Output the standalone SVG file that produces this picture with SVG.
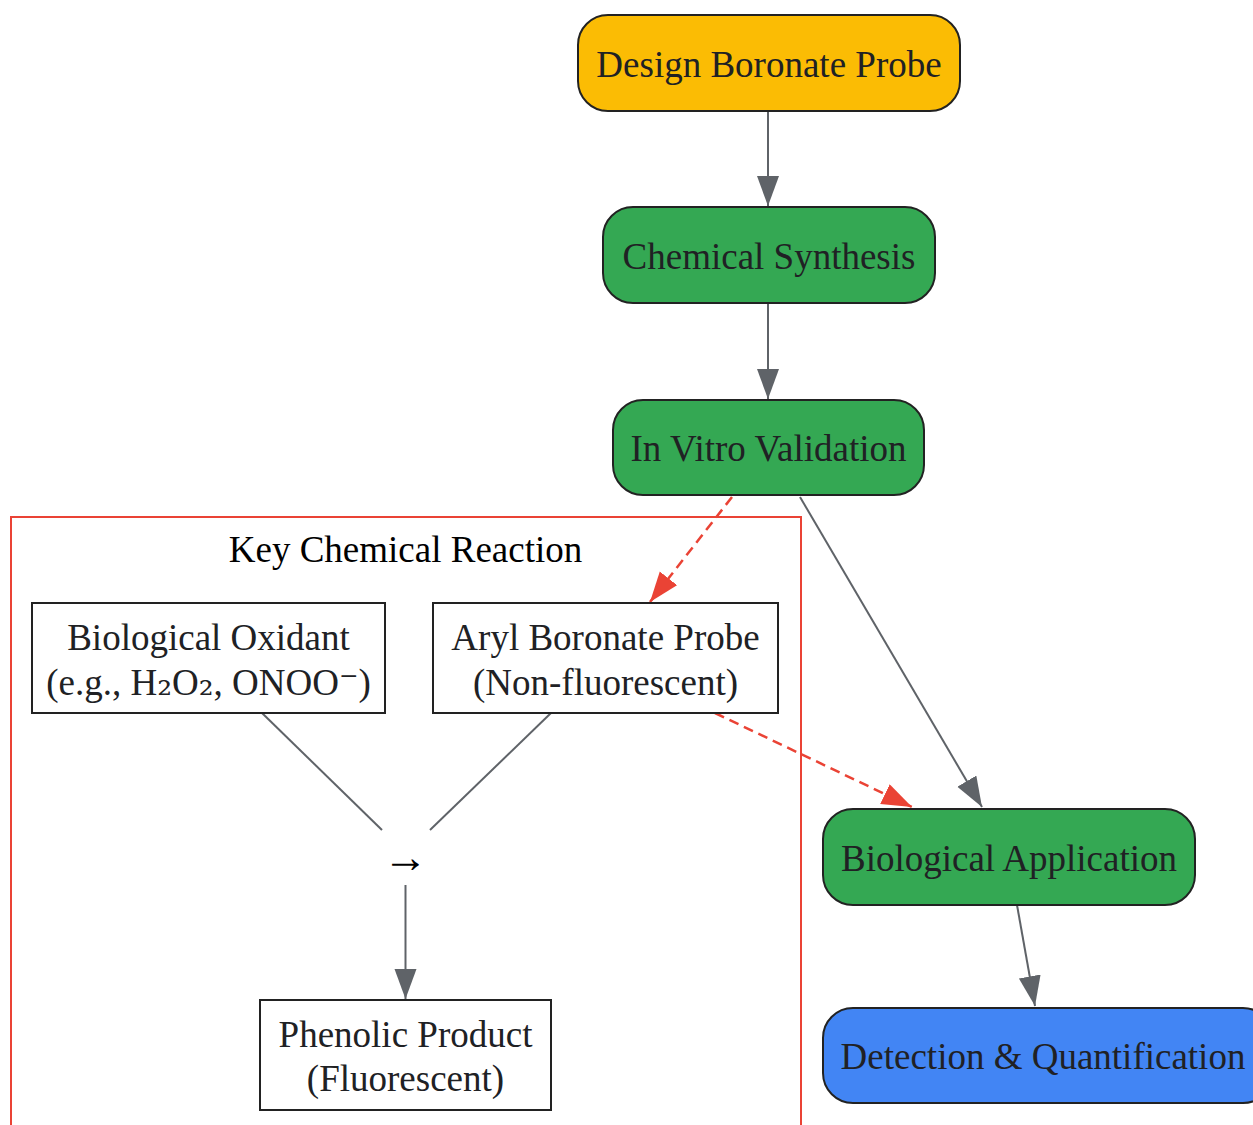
<svg xmlns="http://www.w3.org/2000/svg" width="1253" height="1125" viewBox="0 0 1253 1125">
<defs>
<style>
.n{stroke:#222;stroke-width:2}
.t{font-family:"Liberation Serif","Times New Roman",serif;font-size:37px;fill:#202124;text-anchor:middle}
.s{font-family:"DejaVu Serif",serif}
.b{fill:#fff;stroke:#222;stroke-width:2}
.e{fill:none;stroke:#5F6368;stroke-width:2}
.r{fill:none;stroke:#EA4335;stroke-width:2.5;stroke-dasharray:10,6}
</style>
<marker id="ag" markerUnits="userSpaceOnUse" markerWidth="32" markerHeight="24" refX="30" refY="11" orient="auto"><path d="M0,0L30,11L0,22z" fill="#5F6368"/></marker>
<marker id="ar" markerUnits="userSpaceOnUse" markerWidth="32" markerHeight="24" refX="30" refY="11" orient="auto"><path d="M0,0L30,11L0,22z" fill="#EA4335"/></marker>
</defs>
<rect width="1253" height="1125" fill="#fff"/>
<g id="cluster">
<rect x="11" y="517" width="790" height="640" fill="none" stroke="#EA4335" stroke-width="2"/>
<text class="t" x="405.5" y="562" style="fill:#000">Key Chemical Reaction</text>
</g>
<g id="edges">
<line class="e" x1="768" y1="111" x2="768" y2="206" marker-end="url(#ag)"/>
<line class="e" x1="768" y1="303" x2="768" y2="399" marker-end="url(#ag)"/>
<line class="r" x1="732" y1="497" x2="650" y2="602" marker-end="url(#ar)"/>
<line class="e" x1="800" y1="497" x2="982" y2="807" marker-end="url(#ag)"/>
<line class="r" x1="715" y1="713" x2="912" y2="807" marker-end="url(#ar)"/>
<line class="e" x1="1017" y1="905" x2="1035" y2="1006" marker-end="url(#ag)"/>
<line class="e" x1="262" y1="713" x2="382" y2="830"/>
<line class="e" x1="551" y1="713" x2="430" y2="830"/>
<line class="e" x1="405.5" y1="885" x2="405.5" y2="999" marker-end="url(#ag)"/>
</g>
<g id="design"><rect class="n" x="578" y="15" width="382" height="96" rx="30" fill="#FBBC04"/><text class="t" x="769" y="77">Design Boronate Probe</text></g>
<g id="synthesis"><rect class="n" x="603" y="207" width="332" height="96" rx="30" fill="#34A853"/><text class="t" x="769" y="269">Chemical Synthesis</text></g>
<g id="invitro"><rect class="n" x="613" y="400" width="311" height="95" rx="30" fill="#34A853"/><text class="t" x="768.5" y="461">In Vitro Validation</text></g>
<g id="bioapp"><rect class="n" x="823" y="809" width="372" height="96" rx="30" fill="#34A853"/><text class="t" x="1009" y="871">Biological Application</text></g>
<g id="detection"><rect class="n" x="823" y="1008" width="450" height="95" rx="30" fill="#4285F4"/><text class="t" x="1043" y="1069">Detection &amp; Quantification</text></g>
<g id="oxidant"><rect class="b" x="32" y="603" width="353" height="110"/><text class="t" x="208.5" y="650">Biological Oxidant</text><text class="t" x="208.5" y="695">(e.g., H<tspan class="s">₂</tspan>O<tspan class="s">₂</tspan>, ONOO<tspan class="s">⁻</tspan>)</text></g>
<g id="aryl"><rect class="b" x="433" y="603" width="345" height="110"/><text class="t" x="605.5" y="650">Aryl Boronate Probe</text><text class="t" x="605.5" y="695">(Non-fluorescent)</text></g>
<g id="reaction"><text class="t" x="405.5" y="872" style="fill:#000;font-size:45px">→</text></g>
<g id="phenolic"><rect class="b" x="260" y="1000" width="291" height="110"/><text class="t" x="405.5" y="1047">Phenolic Product</text><text class="t" x="405.5" y="1091">(Fluorescent)</text></g>
</svg>
